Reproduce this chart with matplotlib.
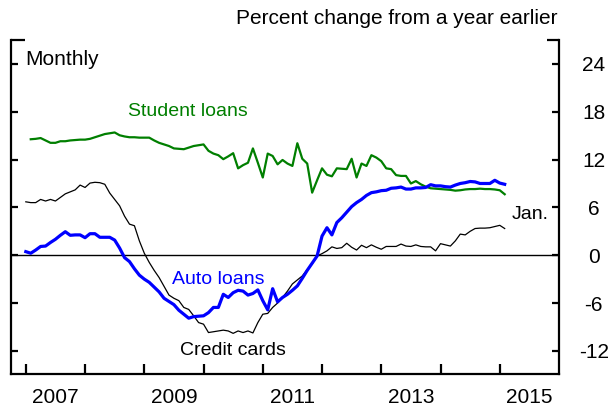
import numpy as np
import matplotlib
matplotlib.use("Agg")
import matplotlib.pyplot as plt

plt.rcParams["font.family"] = ["Liberation Sans", "DejaVu Sans"]
plt.rcParams["axes.unicode_minus"] = False

# Monthly data, Dec 2006 .. Jan 2015 (percent change from a year earlier)
auto_loans = [
    0.45, 0.25, 0.65, 1.1, 1.15, 1.6, 2.0, 2.5, 2.95, 2.5,
    2.55, 2.55, 2.2, 2.7, 2.7, 2.25, 2.25, 2.25, 1.9, 0.9,
    -0.3, -0.8, -1.7, -2.5, -3.0, -3.4, -4.0, -4.6, -5.4, -5.8,
    -6.2, -6.9, -7.4, -7.9, -7.7, -7.65, -7.6, -7.2, -6.55, -6.55,
    -4.9, -5.3, -4.7, -4.4, -4.5, -5.0, -4.8, -4.35, -5.7, -6.85,
    -4.2, -5.85, -5.3, -4.9, -4.4, -3.85, -2.9, -1.9, -1.0, -0.1,
    2.4, 3.45, 2.55, 4.1, 4.7, 5.4, 6.1, 6.6, 7.0, 7.5,
    7.85, 7.95, 8.1, 8.15, 8.4, 8.45, 8.55, 8.3, 8.3, 8.45,
    8.45, 8.5, 8.85, 8.7, 8.7, 8.6, 8.55, 8.8, 9.0, 9.1,
    9.25, 9.2, 9.0, 9.0, 9.0, 9.4, 9.05, 8.9,
]

credit_cards = [
    6.7, 6.6, 6.6, 7.0, 6.8, 7.0, 6.8, 7.25, 7.7, 7.95,
    8.2, 8.8, 8.5, 9.05, 9.15, 9.1, 8.9, 7.8, 7.0, 6.2,
    4.9, 3.9, 3.7, 1.8, 0.25, -0.9, -1.9, -2.8, -3.9, -5.0,
    -5.4, -5.7, -6.55, -6.8, -7.6, -8.45, -8.65, -9.7, -9.6, -9.5,
    -9.4, -9.5, -9.8, -9.5, -9.7, -9.5, -9.75, -8.45, -7.4, -7.3,
    -6.55, -6.0, -5.3, -4.5, -3.6, -3.1, -2.6, -1.8, -1.1, -0.1,
    0.2, 0.55, 1.05, 0.85, 0.95, 1.5, 1.0, 0.65, 1.25, 0.95,
    1.3, 1.0, 0.75, 1.1, 1.1, 1.1, 1.4, 1.15, 1.1, 1.3,
    1.1, 1.05, 1.05, 0.55, 1.45, 1.3, 1.15, 1.8, 2.65, 2.55,
    3.0, 3.35, 3.4, 3.4, 3.45, 3.6, 3.75, 3.35,
]

# starts one month later (Jan 2007)
student_loans = [
    14.55, 14.6, 14.7, 14.4, 14.1, 14.1, 14.3, 14.3, 14.4, 14.45,
    14.5, 14.5, 14.6, 14.8, 15.0, 15.2, 15.3, 15.4, 15.05, 14.9,
    14.8, 14.8, 14.75, 14.75, 14.75, 14.4, 14.1, 13.9, 13.7, 13.4,
    13.35, 13.3, 13.5, 13.7, 13.8, 13.9, 13.1, 12.75, 12.55, 12.05,
    12.4, 12.8, 10.9, 11.3, 11.6, 13.4, 11.6, 9.75, 12.75, 12.45,
    11.4, 11.95, 11.5, 11.2, 14.05, 12.1, 11.5, 7.85, 9.4, 10.9,
    10.1, 9.9, 10.9, 10.85, 10.8, 12.1, 9.75, 11.5, 11.2, 12.55,
    12.25, 11.8, 10.9, 10.8, 10.05, 9.95, 9.95, 9.0, 9.3, 8.9,
    8.6, 8.4, 8.35, 8.3, 8.25, 8.2, 8.1, 8.15, 8.25, 8.3,
    8.3, 8.35, 8.3, 8.3, 8.25, 8.15, 7.65,
]

x_all = 2007 + np.arange(len(auto_loans)) / 12.0
x_student = x_all[1:]

year_ticks = list(range(2007, 2016))
year_labels = ["2007", "2009", "2011", "2013", "2015"]
y_ticks = [-12, -6, 0, 6, 12, 18, 24]

fig = plt.figure(figsize=(6.16, 4.09), dpi=100)
ax = fig.add_axes([11 / 616, 35 / 409, 548 / 616, 334 / 409])

ax.axhline(0, color="black", lw=1.0, zorder=1)
ax.plot(x_all, credit_cards, color="black", lw=0.9, zorder=2)
ax.plot(x_student, student_loans, color="#007f00", lw=1.6, zorder=3)
ax.plot(x_all, auto_loans, color="#0000ff", lw=2.3, zorder=4)

ax.set_xlim(2006.75, 2016.0)
ax.set_ylim(-14.9, 27)

for s in ["left", "right", "bottom"]:
    ax.spines[s].set_linewidth(1.6)
ax.spines["top"].set_visible(False)

# short caps at the top of the side spines
ax.plot([0, 0.025], [1, 1], transform=ax.transAxes, color="black", lw=1.6, clip_on=False, solid_capstyle="butt")
ax.plot([0.978, 1], [1, 1], transform=ax.transAxes, color="black", lw=1.6, clip_on=False, solid_capstyle="butt")

ax.set_yticks(y_ticks)
ax.yaxis.set_ticks_position("both")
ax.tick_params(axis="y", direction="in", length=5, width=1.6, labelleft=False, labelright=True, labelsize=15, pad=25)
for lab in ax.get_yticklabels():
    lab.set_horizontalalignment("center")

ax.set_xticks(year_ticks)
ax.set_xticklabels([])
ax.set_xticks([int(y) + 0.5 for y in year_labels], minor=True)
ax.set_xticklabels(year_labels, minor=True)
ax.tick_params(axis="x", which="major", direction="in", length=7, width=1.6)
ax.tick_params(axis="x", which="minor", length=0, labelsize=15, pad=10)

ax.text(2006.99, 24.5, "Monthly", fontsize=15, va="center", ha="left")
ax.text(2008.72, 18.0, "Student loans", fontsize=14, color="#007f00", va="center", ha="left")
ax.text(2009.46, -3.0, "Auto loans", fontsize=14, color="#0000ff", va="center", ha="left")
ax.text(2009.6, -11.9, "Credit cards", fontsize=14, color="black", va="center", ha="left")
ax.text(2015.2, 5.1, "Jan.", fontsize=14, color="black", va="center", ha="left")

fig.text(558 / 616, 1 - 18 / 409, "Percent change from a year earlier", fontsize=15, ha="right", va="center")

fig.savefig("out.png", dpi=100)
